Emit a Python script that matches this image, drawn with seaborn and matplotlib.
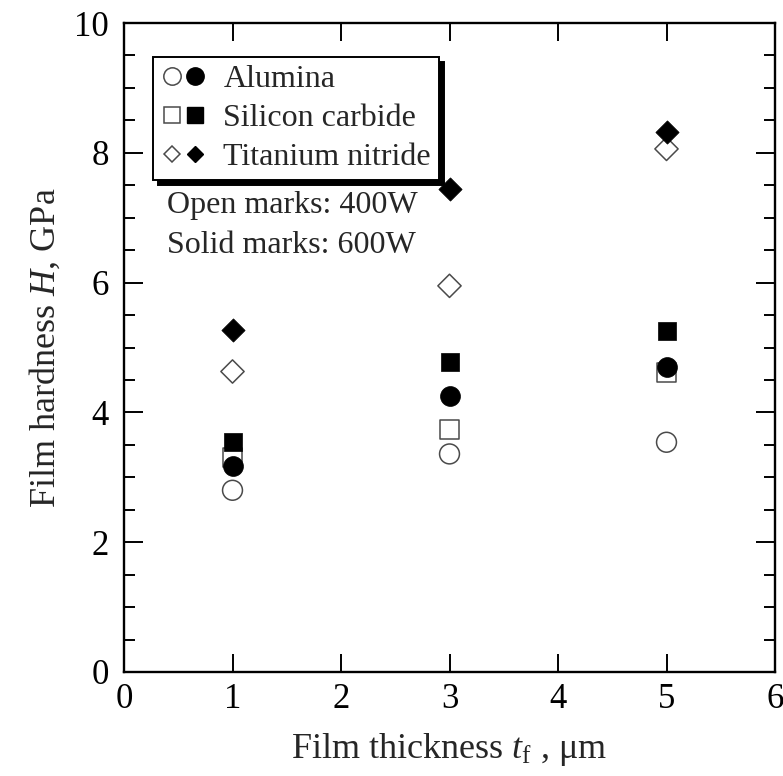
import matplotlib
matplotlib.use("Agg")
import matplotlib.pyplot as plt
from matplotlib.lines import Line2D
from matplotlib.legend_handler import HandlerTuple
from matplotlib.ticker import MultipleLocator
import seaborn as sns
import pandas as pd

# ---- data ----
thickness = [1, 3, 5]
materials = ["Alumina", "Silicon carbide", "Titanium nitride"]
hardness_400W = {
    "Alumina": [2.80, 3.36, 3.54],
    "Silicon carbide": [3.30, 3.74, 4.62],
    "Titanium nitride": [4.63, 5.95, 8.06],
}
hardness_600W = {
    "Alumina": [3.17, 4.25, 4.70],
    "Silicon carbide": [3.55, 4.78, 5.25],
    "Titanium nitride": [5.27, 7.44, 8.32],
}
marker_of = {"Alumina": "o", "Silicon carbide": "s", "Titanium nitride": "D"}
size_of = {"Alumina": 205, "Silicon carbide": 185, "Titanium nitride": 140}
x_ticks = [0, 1, 2, 3, 4, 5, 6]
y_ticks = [0, 2, 4, 6, 8, 10]

sns.set_style("ticks")
plt.rcParams["font.family"] = ["Liberation Serif", "DejaVu Serif"]
plt.rcParams["mathtext.fontset"] = "custom"
plt.rcParams["mathtext.rm"] = "Liberation Serif"
plt.rcParams["mathtext.it"] = "Liberation Serif:italic"

W, H = 783, 776
fig = plt.figure(figsize=(W / 100, H / 100), dpi=100)
ax = fig.add_axes([124 / W, (H - 672) / H, (775 - 124) / W, (672 - 23) / H])

open_edge = "#4a4a4a"
# open marks first
for m in materials:
    df = pd.DataFrame({"t": thickness, "H": hardness_400W[m]})
    sns.scatterplot(data=df, x="t", y="H", ax=ax, marker=marker_of[m],
                    s=size_of[m], facecolor="none", edgecolor=open_edge,
                    linewidth=1.1, legend=False, zorder=3)
for m in materials:
    df = pd.DataFrame({"t": thickness, "H": hardness_600W[m]})
    sns.scatterplot(data=df, x="t", y="H", ax=ax, marker=marker_of[m],
                    s=size_of[m], color="black", edgecolor="black",
                    linewidth=0.5, legend=False, zorder=4)

ax.set_xlim(0, 6)
ax.set_ylim(0, 10)
ax.set_xticks(x_ticks)
ax.set_yticks(y_ticks)
ax.yaxis.set_minor_locator(MultipleLocator(0.5))
ax.xaxis.set_minor_locator(MultipleLocator(10))

for s in ax.spines.values():
    s.set_linewidth(1.7)
    s.set_color("black")
    s.set_visible(True)

ax.tick_params(axis="both", which="both", direction="in", top=True, right=True,
               width=1.4, colors="black")
ax.tick_params(axis="x", which="major", length=13, pad=8, labelsize=25)
ax.tick_params(axis="y", which="major", length=13.5, pad=11, labelsize=25)
ax.tick_params(axis="y", which="minor", length=8)
ax.tick_params(axis="x", which="minor", length=0)

ax.set_xlabel("Film thickness $t_{\\mathrm{f}}$ , μm", fontsize=26, labelpad=11)
ax.set_ylabel("Film hardness $H$, GPa", fontsize=26, labelpad=8)

# legend
handles = []
for m in materials:
    ms = {"o": 12.5, "s": 11, "D": 8.5}[marker_of[m]]
    h_open = Line2D([], [], ls="none", marker=marker_of[m], markersize=ms,
                    markerfacecolor="none", markeredgecolor=open_edge,
                    markeredgewidth=1.1)
    h_fill = Line2D([], [], ls="none", marker=marker_of[m], markersize=ms,
                    markerfacecolor="black", markeredgecolor="black")
    handles.append((h_open, h_fill))
leg = ax.legend(handles, materials, handler_map={tuple: HandlerTuple(ndivide=None, pad=0)},
                loc="upper left", bbox_to_anchor=((153 - 124) / 651, (672 - 57) / 649),
                borderaxespad=0, fontsize=23, handlelength=1.4, handletextpad=0.55,
                borderpad=0.25, labelspacing=0.3, fancybox=False, framealpha=1,
                edgecolor="black",
                shadow={"ox": 3.5, "oy": -3.5, "color": "black", "alpha": 1})
leg.get_frame().set_linewidth(1.4)

ax.text(0.40, 7.19, "Open marks: 400W", fontsize=23, va="center", ha="left")
ax.text(0.40, 6.57, "Solid marks: 600W", fontsize=23, va="center", ha="left")

fig.savefig("out.png", dpi=100)
